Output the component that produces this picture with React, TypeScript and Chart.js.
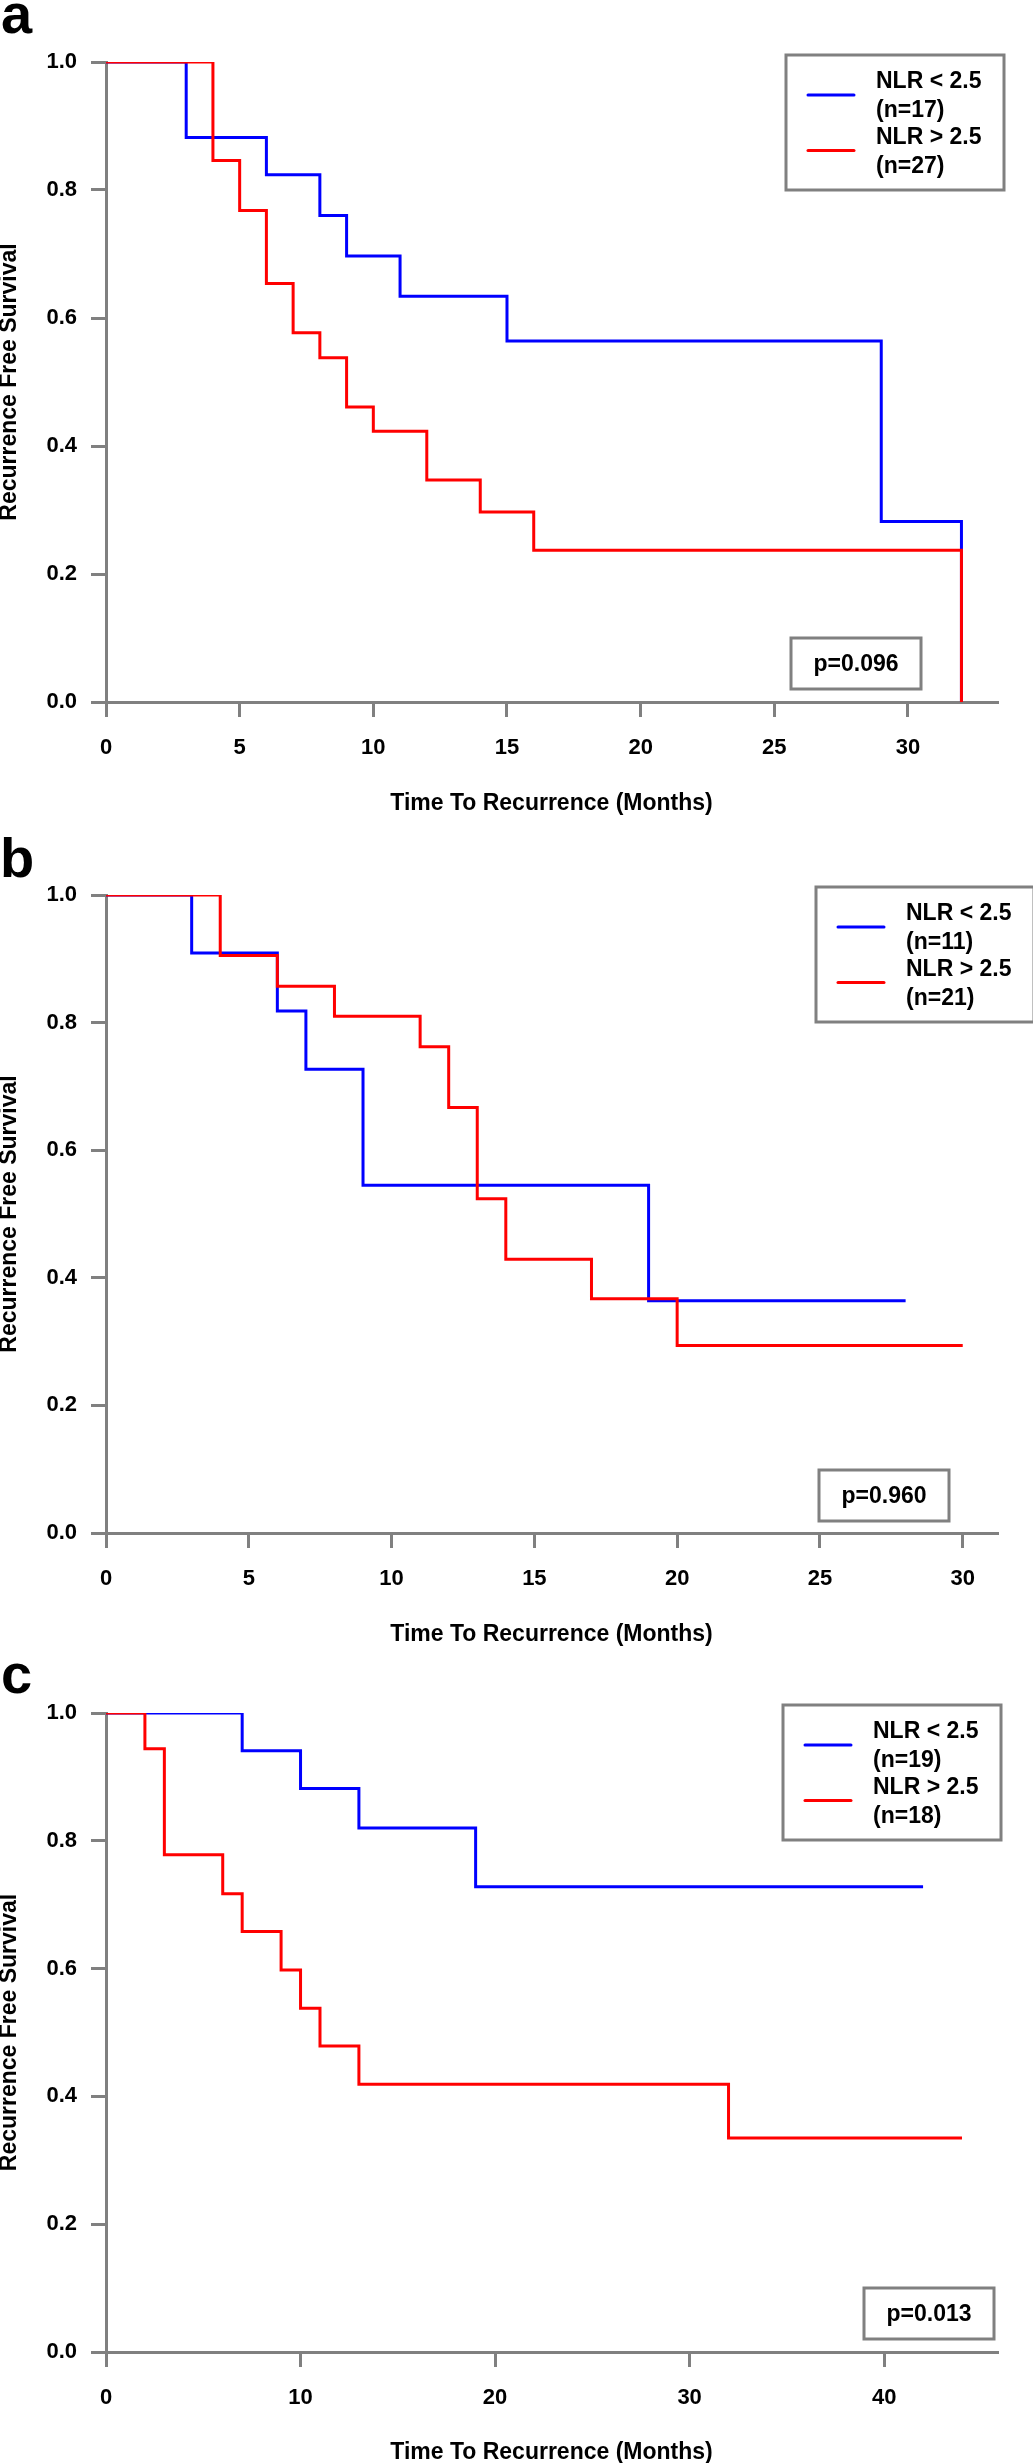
import React, { useEffect, useRef } from 'react';
import { Chart, registerables } from 'chart.js';

Chart.register(...registerables);

const FONT = '"Liberation Sans", Arial, Helvetica, sans-serif';
const GRAY = '#808080';
const BLUE = '#0000ff';
const RED = '#ff0000';

// ---------- data ----------
const yTicks = [0, 0.2, 0.4, 0.6, 0.8, 1.0];
const xTitle = 'Time To Recurrence (Months)';
const yTitle = 'Recurrence Free Survival';

// Panel a
const aLowTimes = [0, 3, 6, 8, 9, 11, 15, 29, 32];
const aLowSurv = [1, 0.882, 0.824, 0.76, 0.697, 0.634, 0.564, 0.282, 0];
const aHighTimes = [0, 4, 5, 6, 7, 8, 9, 10, 12, 14, 16, 32];
const aHighSurv = [1, 0.846, 0.768, 0.654, 0.577, 0.538, 0.461, 0.423, 0.347, 0.297, 0.237, 0];
const aXTicks = [0, 5, 10, 15, 20, 25, 30];
const aXMax = 33.33;
const aLegend = ['NLR < 2.5', '(n=17)', 'NLR > 2.5', '(n=27)'];
const aP = 'p=0.096';

// Panel b
const bLowTimes = [0, 3, 6, 7, 9, 19, 28];
const bLowSurv = [1, 0.909, 0.818, 0.727, 0.545, 0.364, 0.364];
const bHighTimes = [0, 4, 6, 8, 11, 12, 13, 14, 17, 20, 30];
const bHighSurv = [1, 0.905, 0.857, 0.81, 0.762, 0.667, 0.524, 0.429, 0.367, 0.294, 0.294];
const bXTicks = [0, 5, 10, 15, 20, 25, 30];
const bXMax = 31.2;
const bLegend = ['NLR < 2.5', '(n=11)', 'NLR > 2.5', '(n=21)'];
const bP = 'p=0.960';

// Panel c
const cLowTimes = [0, 7, 10, 13, 19, 42];
const cLowSurv = [1, 0.941, 0.882, 0.82, 0.728, 0.728];
const cHighTimes = [0, 2, 3, 6, 7, 9, 10, 11, 13, 32, 44];
const cHighSurv = [1, 0.944, 0.778, 0.717, 0.658, 0.598, 0.538, 0.479, 0.419, 0.335, 0.335];
const cXTicks = [0, 10, 20, 30, 40];
const cXMax = 45.8;
const cLegend = ['NLR < 2.5', '(n=19)', 'NLR > 2.5', '(n=18)'];
const cP = 'p=0.013';

// ---------- overlay plugin (panel letter, legend box, p-value box) ----------
const overlayPlugin = {
  id: 'overlay',
  afterDraw(chart: any, _args: any, opts: any) {
    const ctx = chart.ctx;
    ctx.save();
    // panel letter
    ctx.fillStyle = '#000';
    ctx.font = `bold 56px ${FONT}`;
    ctx.textAlign = 'left';
    ctx.textBaseline = 'alphabetic';
    ctx.fillText(opts.letter, opts.letterX, opts.letterY);

    // legend
    const L = opts.legendBox;
    ctx.fillStyle = '#fff';
    ctx.fillRect(L.x, L.y, 218, 135);
    ctx.lineWidth = 3;
    ctx.strokeStyle = GRAY;
    ctx.strokeRect(L.x, L.y, 218, 135);
    ctx.lineCap = 'round';
    ctx.strokeStyle = BLUE;
    ctx.beginPath();
    ctx.moveTo(L.x + 22, L.y + 40);
    ctx.lineTo(L.x + 68, L.y + 40);
    ctx.stroke();
    ctx.strokeStyle = RED;
    ctx.beginPath();
    ctx.moveTo(L.x + 22, L.y + 95.5);
    ctx.lineTo(L.x + 68, L.y + 95.5);
    ctx.stroke();
    ctx.fillStyle = '#000';
    ctx.font = `bold 23px ${FONT}`;
    ctx.textBaseline = 'middle';
    const offs = [27, 56, 83, 112];
    opts.legendText.forEach((t: string, i: number) => {
      ctx.fillText(t, L.x + 90, L.y + offs[i]);
    });

    // p-value box
    const P = opts.pBox;
    ctx.fillStyle = '#fff';
    ctx.fillRect(P.x, P.y, 130, 51);
    ctx.lineCap = 'butt';
    ctx.lineWidth = 3;
    ctx.strokeStyle = GRAY;
    ctx.strokeRect(P.x, P.y, 130, 51);
    ctx.fillStyle = '#000';
    ctx.textAlign = 'center';
    ctx.fillText(opts.pText, P.x + 65, P.y + 27);
    ctx.restore();
  },
};

type PanelProps = {
  top: number;
  height: number;
  chartTop: number;
  chartBottom: number;
  xMax: number;
  xTicks: number[];
  lowT: number[];
  lowS: number[];
  highT: number[];
  highS: number[];
  legendText: string[];
  pText: string;
  letter: string;
  letterX: number;
  letterY: number;
  legendBox: { x: number; y: number };
  pBox: { x: number; y: number };
  titlePadBottom: number;
};

function Panel(p: PanelProps) {
  const ref = useRef<HTMLCanvasElement | null>(null);
  useEffect(() => {
    if (!ref.current) return;
    const toPts = (t: number[], s: number[]) => t.map((x, i) => ({ x, y: s[i] }));
    const tickFont = { family: FONT, size: 22, weight: 'bold' as const };
    const titleFont = { family: FONT, size: 23, weight: 'bold' as const, lineHeight: 1 };
    const grid = {
      drawOnChartArea: false,
      drawTicks: true,
      tickLength: 15,
      lineWidth: 3,
      color: GRAY,
    };
    const border = { display: true, color: GRAY, width: 3 };
    const chart = new Chart(ref.current, {
      type: 'line',
      data: {
        datasets: [
          {
            label: p.legendText[0],
            data: toPts(p.lowT, p.lowS),
            borderColor: BLUE,
            backgroundColor: BLUE,
            borderWidth: 3,
            pointRadius: 0,
            stepped: 'before',
            fill: false,
            order: 1,
            clip: 0,
            borderJoinStyle: 'miter',
          } as any,
          {
            label: p.legendText[2],
            data: toPts(p.highT, p.highS),
            borderColor: RED,
            backgroundColor: RED,
            borderWidth: 3,
            pointRadius: 0,
            stepped: 'before',
            fill: false,
            order: 0,
            clip: 0,
            borderJoinStyle: 'miter',
          } as any,
        ],
      },
      options: {
        animation: false,
        responsive: false,
        maintainAspectRatio: false,
        events: [],
        layout: { padding: { top: p.chartTop, right: 36, bottom: 0, left: 0 } },
        plugins: {
          legend: { display: false },
          tooltip: { enabled: false },
          overlay: {
            letter: p.letter,
            letterX: p.letterX,
            letterY: p.letterY,
            legendBox: p.legendBox,
            legendText: p.legendText,
            pBox: p.pBox,
            pText: p.pText,
          },
        } as any,
        scales: {
          x: {
            type: 'linear',
            min: 0,
            max: p.xMax,
            afterBuildTicks: (s: any) => {
              s.ticks = p.xTicks.map((v) => ({ value: v }));
            },
            afterFit: (s: any) => {
              s.height = p.height - p.chartBottom;
            },
            grid,
            border,
            ticks: {
              padding: 18,
              color: '#000',
              font: tickFont,
              autoSkip: false,
              maxRotation: 0,
              callback: (v: any) => String(v),
            },
            title: {
              display: true,
              text: xTitle,
              color: '#000',
              font: titleFont,
              padding: { top: 0, bottom: p.titlePadBottom },
            },
          },
          y: {
            type: 'linear',
            min: 0,
            max: 1,
            afterBuildTicks: (s: any) => {
              s.ticks = yTicks.map((v) => ({ value: v }));
            },
            afterFit: (s: any) => {
              s.width = 106;
            },
            grid,
            border,
            ticks: {
              padding: 14,
              color: '#000',
              font: tickFont,
              autoSkip: false,
              callback: (v: any) => Number(v).toFixed(1),
            },
            title: {
              display: true,
              text: yTitle,
              color: '#000',
              font: { ...titleFont, lineHeight: 0.8 },
              padding: { top: 0, bottom: 0 },
            },
          },
        },
      } as any,
      plugins: [overlayPlugin],
    });
    return () => chart.destroy();
  }, []);
  return (
    <canvas
      ref={ref}
      width={1033}
      height={p.height}
      style={{ position: 'absolute', left: 0, top: p.top, width: 1033, height: p.height, display: 'block' }}
    />
  );
}

export default function App() {
  return (
    <div style={{ position: 'absolute', left: 0, top: 0, width: 1033, height: 2463, background: '#fff', overflow: 'hidden' }}>
      <Panel
        top={0}
        height={818}
        chartTop={62}
        chartBottom={702}
        xMax={aXMax}
        xTicks={aXTicks}
        lowT={aLowTimes}
        lowS={aLowSurv}
        highT={aHighTimes}
        highS={aHighSurv}
        legendText={aLegend}
        pText={aP}
        letter="a"
        letterX={1}
        letterY={33}
        legendBox={{ x: 786, y: 55 }}
        pBox={{ x: 791, y: 638 }}
        titlePadBottom={3}
      />
      <Panel
        top={818}
        height={832}
        chartTop={77}
        chartBottom={715}
        xMax={bXMax}
        xTicks={bXTicks}
        lowT={bLowTimes}
        lowS={bLowSurv}
        highT={bHighTimes}
        highS={bHighSurv}
        legendText={bLegend}
        pText={bP}
        letter="b"
        letterX={0}
        letterY={59}
        legendBox={{ x: 816, y: 69 }}
        pBox={{ x: 819, y: 652 }}
        titlePadBottom={4}
      />
      <Panel
        top={1650}
        height={813}
        chartTop={63}
        chartBottom={702}
        xMax={cXMax}
        xTicks={cXTicks}
        lowT={cLowTimes}
        lowS={cLowSurv}
        highT={cHighTimes}
        highS={cHighSurv}
        legendText={cLegend}
        pText={cP}
        letter="c"
        letterX={1}
        letterY={43}
        legendBox={{ x: 783, y: 55 }}
        pBox={{ x: 864, y: 638 }}
        titlePadBottom={-1}
      />
    </div>
  );
}
